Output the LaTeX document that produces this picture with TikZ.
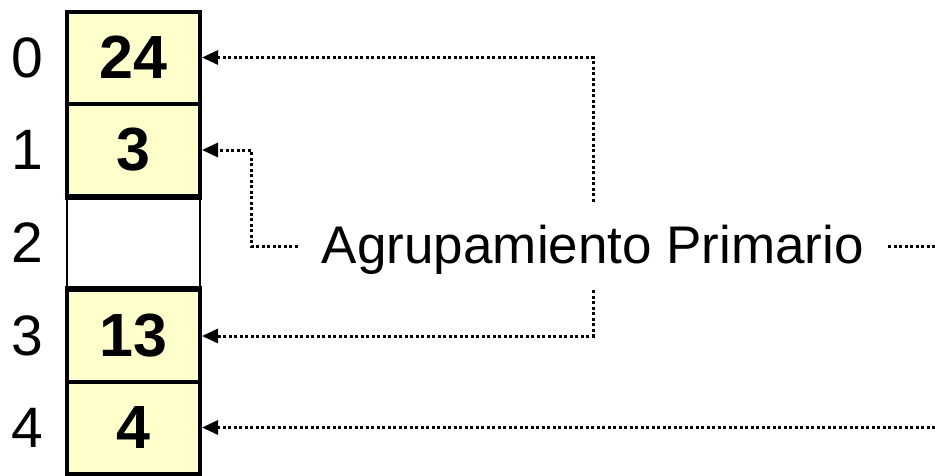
\documentclass[tikz,border=0pt]{standalone}
\usepackage{fontspec}
\setmainfont{Liberation Sans}
\usetikzlibrary{arrows.meta,positioning,calc}
\definecolor{CELL-YELLOW}{RGB}{255, 255, 204}

\tikzset{
  cell/.style={draw=black, line width=4pt, fill=CELL-YELLOW, minimum width=133pt,
    minimum height=92pt, inner sep=0pt, font=\fontsize{61}{61}\selectfont\bfseries},
  emptycell/.style={draw=black, line width=2pt, fill=white, minimum width=133pt,
    minimum height=92pt, inner sep=0pt},
  index/.style={font=\fontsize{57}{57}\selectfont, inner sep=0pt},
  link/.style={line width=3pt, dash pattern=on 3pt off 2.5pt, -{Triangle[length=16pt,width=14pt]}},
  freelink/.style={line width=3pt, dash pattern=on 3pt off 2.5pt}
}

\begin{document}
\begin{tikzpicture}[x=1pt,y=1pt]
  \useasboundingbox (0,0) rectangle (935,-475);

  % Table cells
  \node[cell] (c0) at (133.5,-57.5) {24};
  \node[cell] (c1) at (133.5,-150) {3};
  \node[emptycell] (c2) at (133.5,-243) {};
  \node[cell] (c3) at (133.5,-336) {13};
  \node[cell] (c4) at (133.5,-427.5) {4};
  \draw[line width=4pt] (c3.north west) -- (c3.north east);
  \draw[line width=4pt] (c1.south west) -- (c1.south east);

  % Indices
  \foreach \i in {0,...,4}
    \node[index] (i\i) at (27,0 |- c\i.center) {\i};

  % Label
  \node[inner sep=0pt, minimum width=590pt, minimum height=88pt, text height=40pt,
    text depth=6pt, font=\fontsize{53}{53}\selectfont] (agr) at (593,-246) {Agrupamiento Primario};

  % Connectors
  \coordinate (bend) at ([xshift=49pt]c1.east);
  \coordinate (out) at (935,0 |- agr.east);
  \coordinate (in) at (935,0 |- c4.east);
  \draw[link] (agr.north) |- (c0.east);
  \draw[link] (agr.south) |- (c3.east);
  \draw[link] (agr.west) -| (bend) -- (c1.east);
  \draw[freelink] (agr.east) -- (out);
  \draw[link] (in) -- (c4.east);
\end{tikzpicture}
\end{document}
